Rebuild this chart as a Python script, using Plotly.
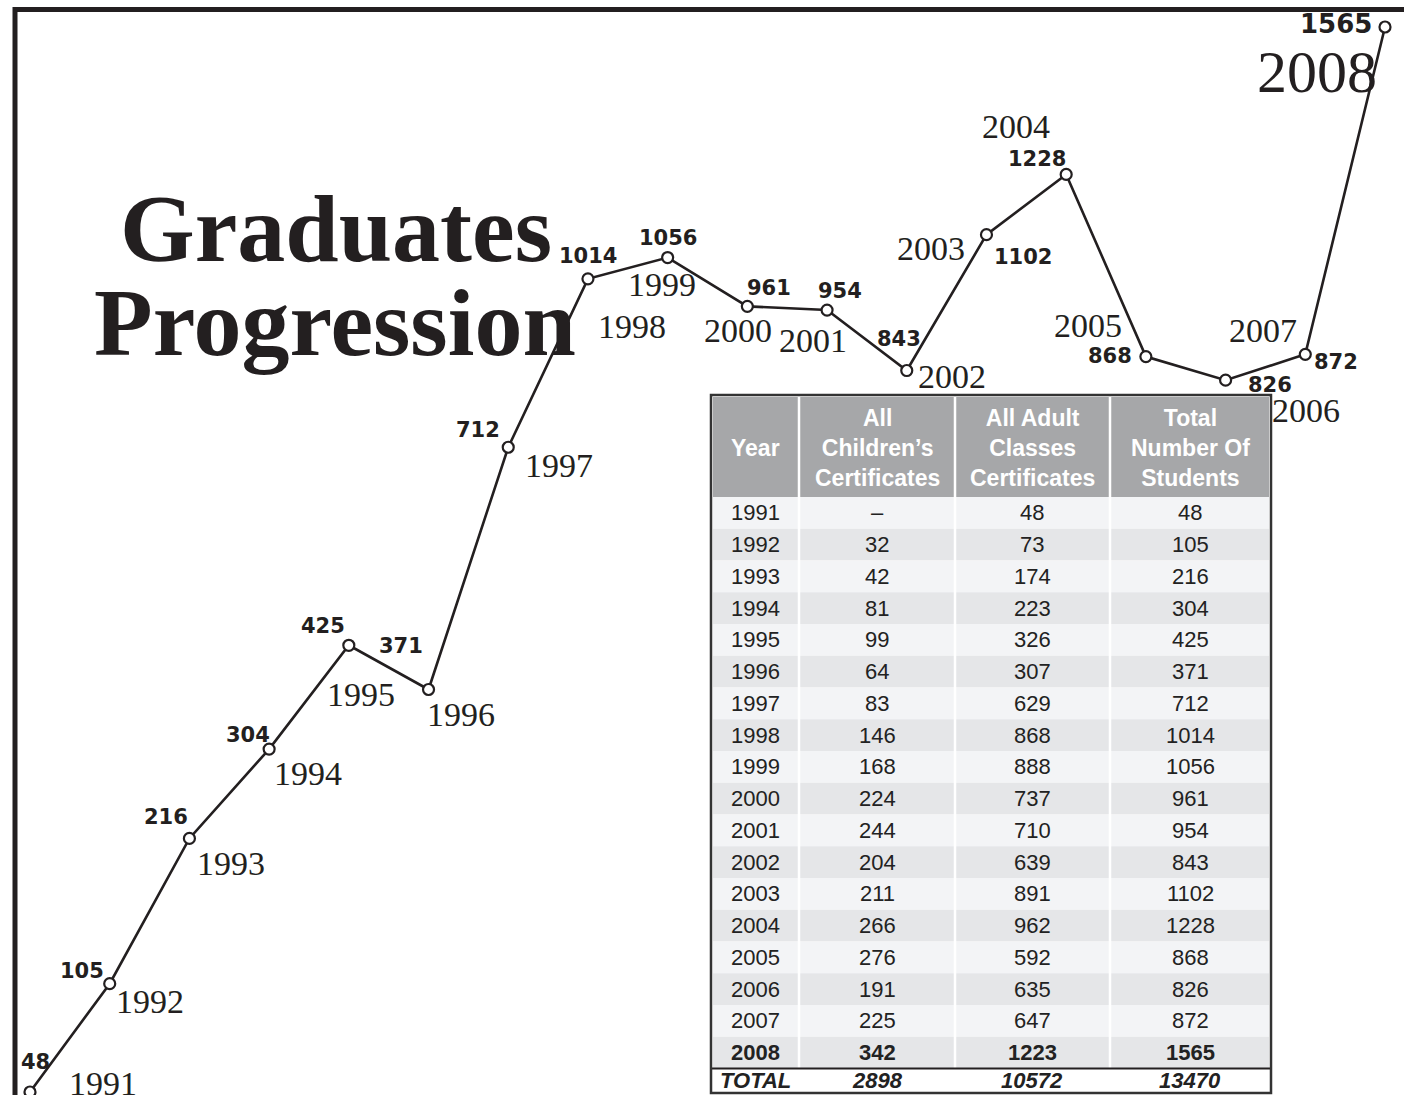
import math
import plotly.graph_objects as go

# ---------------- data ----------------
years = [1991, 1992, 1993, 1994, 1995, 1996, 1997, 1998, 1999,
         2000, 2001, 2002, 2003, 2004, 2005, 2006, 2007, 2008]
children = [None, 32, 42, 81, 99, 64, 83, 146, 168,
            224, 244, 204, 211, 266, 276, 191, 225, 342]
adults = [48, 73, 174, 223, 326, 307, 629, 868, 888,
          737, 710, 639, 891, 962, 592, 635, 647, 1223]
totals = [48, 105, 216, 304, 425, 371, 712, 1014, 1056,
          961, 954, 843, 1102, 1228, 868, 826, 872, 1565]
total_row = ["TOTAL", "2898", "10572", "13470"]
headers = ["Year", "All<br>Children’s<br>Certificates",
           "All Adult<br>Classes<br>Certificates",
           "Total<br>Number Of<br>Students"]
title_lines = ["Graduates", "Progression"]

# ---------------- styling / layout ----------------
W, H = 1404, 1095
INK = "#231f20"


def px(x):
    return x / W


def py(y):
    return 1 - y / H


# The source graphic compresses large values (it is not drawn on a linear
# scale); a square-root value scale reproduces that shape.
def vscale(v):
    return math.sqrt(v)


y_plot = [vscale(v) for v in totals]

# label offsets (screen px: dx right, dy down) for value label and year label
value_off = {1991: (5, -30), 1992: (-28, -13), 1993: (-23, -21), 1994: (-21, -14),
             1995: (-26, -19), 1996: (-28, -43), 1997: (-30, -17), 1998: (0, -23),
             1999: (0, -20), 2000: (22, -18), 2001: (13, -19), 2002: (-8, -32),
             2003: (37, 22), 2004: (-29, -15), 2005: (-36, -1), 2006: (44, 5),
             2007: (31, 8), 2008: (-49, -3)}
year_off = {1991: (73, -9), 1992: (40, 18), 1993: (42, 25), 1994: (39, 24),
            1995: (12, 49), 1996: (32, 25), 1997: (51, 18), 1998: (44, 48),
            1999: (-6, 27), 2000: (-9, 24), 2001: (-14, 30), 2002: (45, 6),
            2003: (-55, 14), 2004: (-50, -48), 2005: (-58, -31), 2006: (80, 30),
            2007: (-42, -24), 2008: (-68, 45)}

fig = go.Figure()
fig.add_trace(go.Scatter(
    x=years, y=y_plot, mode="lines+markers",
    customdata=totals, hovertemplate="%{x}: %{customdata}<extra></extra>",
    line=dict(color=INK, width=2.6),
    marker=dict(symbol="circle", size=11, color="white",
                line=dict(color=INK, width=2.2)),
    cliponaxis=False, showlegend=False))

annotations = []
shapes = []

SERIF = "Liberation Serif, Times New Roman, serif"
SANS = "Liberation Sans, Arial, sans-serif"

# title
annotations.append(dict(text="<b>%s</b>" % title_lines[0], x=px(336), y=py(228),
                        xref="paper", yref="paper", showarrow=False,
                        font=dict(family=SERIF, size=96, color=INK),
                        xanchor="center", yanchor="middle"))
annotations.append(dict(text="<b>%s</b>" % title_lines[1], x=px(335), y=py(322),
                        xref="paper", yref="paper", showarrow=False,
                        font=dict(family=SERIF, size=96, color=INK),
                        xanchor="center", yanchor="middle"))

# point labels
for yr, v, yp in zip(years, totals, y_plot):
    big = (yr == years[-1])
    dx, dy = value_off[yr]
    annotations.append(dict(text="<b>%d</b>" % v, x=yr, y=yp, xref="x", yref="y",
                            showarrow=False, xshift=dx, yshift=-dy,
                            font=dict(family="DejaVu Sans, sans-serif",
                                      size=26 if big else 21, color=INK),
                            xanchor="center", yanchor="middle"))
    dx, dy = year_off[yr]
    annotations.append(dict(text="%d" % yr, x=yr, y=yp, xref="x", yref="y",
                            showarrow=False, xshift=dx, yshift=-dy,
                            font=dict(family=SERIF, size=60 if big else 34, color=INK),
                            xanchor="center", yanchor="middle"))

# frame
shapes.append(dict(type="rect", xref="paper", yref="paper",
                   x0=px(15), x1=px(1420), y0=py(9.5), y1=py(1110),
                   line=dict(color=INK, width=5), fillcolor="rgba(0,0,0,0)",
                   layer="below"))

# ---------------- table ----------------
T_L, T_R, T_T, T_B = 711, 1271, 395, 1093
H_T, H_B = 397, 497
ROW_H = 31.75
col_edges = [713, 799, 955, 1110, 1269]
col_centers = [755, 877, 1032, 1190]
rows_bottom = H_B + ROW_H * len(years)

shapes.append(dict(type="rect", xref="paper", yref="paper",
                   x0=px(T_L), x1=px(T_R), y0=py(T_T), y1=py(T_B),
                   line=dict(width=0), fillcolor="white", layer="below"))
shapes.append(dict(type="rect", xref="paper", yref="paper",
                   x0=px(col_edges[0]), x1=px(col_edges[-1]), y0=py(H_T), y1=py(H_B),
                   line=dict(width=0), fillcolor="#a6a7a9", layer="below"))
for i in range(len(years)):
    top = H_B + i * ROW_H
    shapes.append(dict(type="rect", xref="paper", yref="paper",
                       x0=px(col_edges[0]), x1=px(col_edges[-1]),
                       y0=py(top), y1=py(top + ROW_H),
                       line=dict(width=0),
                       fillcolor="#f3f4f6" if i % 2 == 0 else "#e5e6e8",
                       layer="below"))
for xe in col_edges[1:-1]:
    shapes.append(dict(type="line", xref="paper", yref="paper",
                       x0=px(xe), x1=px(xe), y0=py(H_T), y1=py(rows_bottom),
                       line=dict(color="white", width=2.5), layer="below"))
shapes.append(dict(type="line", xref="paper", yref="paper",
                   x0=px(T_L), x1=px(T_R), y0=py(rows_bottom), y1=py(rows_bottom),
                   line=dict(color=INK, width=2), layer="below"))
shapes.append(dict(type="rect", xref="paper", yref="paper",
                   x0=px(T_L), x1=px(T_R), y0=py(T_T), y1=py(T_B),
                   line=dict(color="#333333", width=2.5),
                   fillcolor="rgba(0,0,0,0)", layer="below"))

for c, htxt in enumerate(headers):
    annotations.append(dict(text="<b>%s</b>" % htxt, x=px(col_centers[c]),
                            y=py((H_T + H_B) / 2 + 1), xref="paper", yref="paper",
                            showarrow=False, align="center",
                            font=dict(family=SANS, size=23, color="white"),
                            xanchor="center", yanchor="middle"))

for i, yr in enumerate(years):
    cy = H_B + (i + 0.5) * ROW_H
    last = (i == len(years) - 1)
    ch = "–" if children[i] is None else str(children[i])
    cells = [str(yr), ch, str(adults[i]), str(totals[i])]
    for c, t in enumerate(cells):
        annotations.append(dict(text=("<b>%s</b>" % t) if last else t,
                                x=px(col_centers[c]), y=py(cy),
                                xref="paper", yref="paper", showarrow=False,
                                font=dict(family=SANS, size=22, color="#222222"),
                                xanchor="center", yanchor="middle"))

cy = (rows_bottom + T_B) / 2
for c, t in enumerate(total_row):
    annotations.append(dict(text="<b><i>%s</i></b>" % t,
                            x=px(col_centers[c]), y=py(cy),
                            xref="paper", yref="paper", showarrow=False,
                            font=dict(family=SANS, size=22, color="#222222"),
                            xanchor="center", yanchor="middle"))

# axis ranges chosen so the series spans the page
x_pp = (1385 - 30) / (years[-1] - years[0])
y_pp = (1092 - 27) / (max(y_plot) - min(y_plot))
x_range = [years[0] - 30 / x_pp, years[0] + (W - 30) / x_pp]
y_range = [min(y_plot) - (H - 1092) / y_pp, max(y_plot) + 27 / y_pp]

fig.update_layout(
    width=W, height=H, margin=dict(l=0, r=0, t=0, b=0),
    paper_bgcolor="white", plot_bgcolor="white",
    xaxis=dict(range=x_range, visible=False, showgrid=False, zeroline=False, fixedrange=True),
    yaxis=dict(range=y_range, visible=False, showgrid=False, zeroline=False, fixedrange=True),
    shapes=shapes, annotations=annotations, showlegend=False)

fig.write_html("out.html", config={"displayModeBar": False},
               post_script="document.body.style.margin='0px';")
